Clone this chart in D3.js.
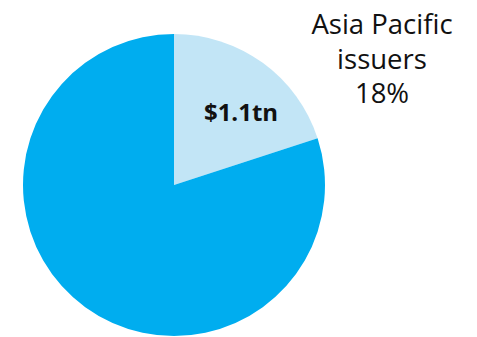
<!DOCTYPE html>
<html>
<head>
<meta charset="utf-8">
<script src="https://cdn.jsdelivr.net/npm/d3@7"></script>
<style>
  html, body { margin: 0; padding: 0; background: #fff; }
  svg { display: block; }
</style>
</head>
<body>
<svg id="chart" width="477" height="337"></svg>
<script>
// Issuance split, US$ trillion
const segments = ["Asia Pacific issuers", "Other issuers"];
const amounts = [1.1, 4.4];
const sliceColors = ["#c2e5f6", "#00adef"];
const valueLabel = "$1.1tn";
const calloutLines = ["Asia Pacific", "issuers", "18%"];

const svg = d3.select("#chart");
const cx = 174, cy = 185, radius = 151;

const pie = d3.pie().sort(null).value(d => d.value);
const arc = d3.arc().innerRadius(0).outerRadius(radius);
const data = segments.map((s, i) => ({ name: s, value: amounts[i] }));
const color = d3.scaleOrdinal().domain(segments).range(sliceColors);

const g = svg.append("g").attr("transform", `translate(${cx},${cy})`);
const arcs = pie(data);

g.selectAll("path")
  .data(arcs)
  .join("path")
  .attr("d", arc)
  .attr("fill", d => color(d.data.name));

// value label inside the highlighted slice
const labelArc = d3.arc().innerRadius(radius * 0.62).outerRadius(radius * 0.62);
const c = labelArc.centroid(arcs[0]);
g.append("text")
  .attr("x", c[0] + 12)
  .attr("y", c[1] + 12)
  .attr("text-anchor", "middle")
  .attr("font-family", "'Open Sans', sans-serif")
  .attr("font-weight", "bold")
  .attr("font-size", 24)
  .attr("fill", "#111")
  .text(valueLabel);

// callout text at the top right
svg.append("g")
  .selectAll("text")
  .data(calloutLines)
  .join("text")
  .attr("x", 382)
  .attr("y", (d, i) => 34 + i * 34.5)
  .attr("text-anchor", "middle")
  .attr("font-family", "'Open Sans', sans-serif")
  .attr("font-size", 27.5)
  .attr("fill", "#111")
  .text(d => d);
</script>
</body>
</html>
